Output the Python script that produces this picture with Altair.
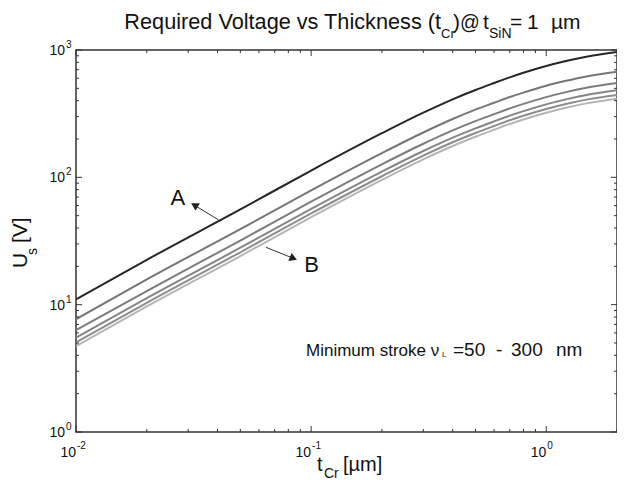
import altair as alt
import pandas as pd

FONT = "Liberation Sans"

# ---------------- data ----------------
t_cr = [0.01, 0.02, 0.05, 0.1, 0.2, 0.3, 0.4, 0.5, 0.6, 0.7, 0.8, 1.0, 1.2, 1.5, 2.0]
u_1 = [11.0, 22.5, 56.0, 113, 222, 322, 410, 485, 550, 610, 662, 748, 815, 890, 965]
u_2 = [7.7, 15.8, 39.2, 79, 155, 225, 287, 340, 385, 427, 463, 524, 570, 623, 675]
u_3 = [6.3, 12.8, 31.9, 64.4, 126.5, 183.5, 233.7, 276.5, 313.5, 347.7, 377.3, 426.4, 464.6, 507.3, 550]
u_4 = [5.5, 11.25, 28.0, 56.5, 111, 161, 205, 242.5, 275, 305, 331, 374, 407.5, 445, 482.5]
u_5 = [5.06, 10.35, 25.8, 52.0, 102, 148, 188.6, 223, 253, 280.6, 304.5, 344, 375, 409.4, 444]
u_6 = [4.73, 9.68, 24.1, 48.6, 95.5, 138.5, 176.3, 208.5, 236.5, 262.3, 284.7, 321.6, 350.5, 382.7, 415]

series_names = ["c1", "c2", "c3", "c4", "c5", "c6"]
series_colors = ["#262626", "#767676", "#7c7c7c", "#858585", "#8d8d8d", "#b5b5b5"]

x_major = [0.01, 0.1, 1.0]
x_major_exp = ["-2", "-1", "0"]
x_minor = [0.02, 0.03, 0.04, 0.05, 0.06, 0.07, 0.08, 0.09,
           0.2, 0.3, 0.4, 0.5, 0.6, 0.7, 0.8, 0.9, 2.0]
y_major = [1, 10, 100, 1000]
y_major_exp = ["0", "1", "2", "3"]
y_minor = [2, 3, 4, 5, 6, 7, 8, 9, 20, 30, 40, 50, 60, 70, 80, 90,
           200, 300, 400, 500, 600, 700, 800, 900]

# annotation arrows (data coordinates)
arrow_label = ["A", "B"]
arrow_x_from = [0.0404, 0.0643]
arrow_y_from = [46.3, 28.2]
arrow_x_to = [0.0319, 0.0841]
arrow_y_to = [60.4, 23.1]
arrow_angle = [300, 112]
label_x = [0.0271, 0.1005]
label_y = [68.9, 20.5]

# ---------------- frames ----------------
rows = []
for name, vals in zip(series_names, [u_1, u_2, u_3, u_4, u_5, u_6]):
    for t, u in zip(t_cr, vals):
        rows.append({"t": t, "u": u, "s": name})
df = pd.DataFrame(rows)

W, H = 541, 382
xs = alt.Scale(type="log", domain=[0.01, 2])
ys = alt.Scale(type="log", domain=[1, 1000])
AX = "#333333"

lines = alt.Chart(df).mark_line(strokeWidth=2, clip=True, interpolate="monotone").encode(
    x=alt.X("t:Q", scale=xs, axis=None),
    y=alt.Y("u:Q", scale=ys, axis=None),
    color=alt.Color("s:N", scale=alt.Scale(domain=series_names, range=series_colors), legend=None),
    detail="s:N",
)

dxM = pd.DataFrame({"v": x_major, "e": x_major_exp, "b": ["10"] * 3})
dxm = pd.DataFrame({"v": x_minor})
dyM = pd.DataFrame({"v": y_major, "e": y_major_exp, "b": ["10"] * 4})
dym = pd.DataFrame({"v": y_minor})

def xticks(d, ln):
    base = alt.Chart(d)
    bot = base.mark_rule(color=AX, strokeWidth=1).encode(
        x=alt.X("v:Q", scale=xs, axis=None), y=alt.value(H), y2=alt.value(H - ln))
    top = base.mark_rule(color=AX, strokeWidth=1).encode(
        x=alt.X("v:Q", scale=xs, axis=None), y=alt.value(0), y2=alt.value(ln))
    return bot + top

def yticks(d, ln):
    base = alt.Chart(d)
    lft = base.mark_rule(color=AX, strokeWidth=1).encode(
        y=alt.Y("v:Q", scale=ys, axis=None), x=alt.value(0), x2=alt.value(ln))
    rgt = base.mark_rule(color=AX, strokeWidth=1).encode(
        y=alt.Y("v:Q", scale=ys, axis=None), x=alt.value(W), x2=alt.value(W - ln))
    return lft + rgt

ticks = xticks(dxM, 6) + xticks(dxm, 3) + yticks(dyM, 6) + yticks(dym, 3)

xlab_b = alt.Chart(dxM).mark_text(align="right", baseline="alphabetic", font=FONT, fontSize=14, color="#111").encode(
    x=alt.X("v:Q", scale=xs, axis=None), y=alt.value(407), text="b:N")
xlab_e = alt.Chart(dxM).mark_text(align="left", baseline="alphabetic", font=FONT, fontSize=10, dx=1, color="#111").encode(
    x=alt.X("v:Q", scale=xs, axis=None), y=alt.value(399), text="e:N")
ylab_b = alt.Chart(dyM).mark_text(align="right", baseline="alphabetic", font=FONT, fontSize=14, dy=5, color="#111").encode(
    y=alt.Y("v:Q", scale=ys, axis=None), x=alt.value(-11), text="b:N")
ylab_e = alt.Chart(dyM).mark_text(align="left", baseline="alphabetic", font=FONT, fontSize=10, dy=-2, color="#111").encode(
    y=alt.Y("v:Q", scale=ys, axis=None), x=alt.value(-10), text="e:N")

darr = pd.DataFrame({"lab": arrow_label, "x1": arrow_x_from, "y1": arrow_y_from,
                     "x2": arrow_x_to, "y2": arrow_y_to, "ang": arrow_angle,
                     "lx": label_x, "ly": label_y})
arr_line = alt.Chart(darr).mark_rule(color="#333", strokeWidth=1).encode(
    x=alt.X("x1:Q", scale=xs, axis=None), y=alt.Y("y1:Q", scale=ys, axis=None),
    x2="x2:Q", y2="y2:Q")
arr_head = alt.Chart(darr).mark_point(shape="triangle-up", filled=True, size=75, color="#222", opacity=1).encode(
    x=alt.X("x2:Q", scale=xs, axis=None), y=alt.Y("y2:Q", scale=ys, axis=None),
    angle=alt.Angle("ang:Q", scale=None))
arr_text = alt.Chart(darr).mark_text(font=FONT, fontSize=22, align="center", baseline="middle", color="#111").encode(
    x=alt.X("lx:Q", scale=xs, axis=None), y=alt.Y("ly:Q", scale=ys, axis=None), text="lab:N")

one = pd.DataFrame({"a": [0]})
OX, OY = 76, 50  # page position of the plot origin; texts below are given in page pixels

def txt(s, px, py, size, align="left", angle=0):
    kw = dict(align=align, baseline="alphabetic", font=FONT, fontSize=size, color="#111")
    if angle:
        kw["angle"] = angle
    return alt.Chart(one).mark_text(**kw).encode(
        x=alt.value(px - OX), y=alt.value(py - OY), text=alt.value(s))

texts = (
    # title
    txt("Required Voltage vs Thickness (t", 441, 29, 21.7, "right")
    + txt("Cr", 441, 38, 13)
    + txt(")", 453, 29, 21)
    + txt("@", 470, 29, 19.5, "center")
    + txt("t", 483, 29, 21)
    + txt("SiN", 489, 38, 14)
    + txt("=", 510, 29, 21)
    + txt("1", 527, 29, 21)
    + txt("\u00b5m", 551, 29, 21)
    # x title
    + txt("t", 317, 471, 20)
    + txt("Cr", 324, 478, 14)
    + txt("[\u00b5m]", 343, 471, 20)
    # y title
    + txt("U", 27, 268, 21, angle=270)
    + txt("s", 37, 255, 14, angle=270)
    + txt("[V]", 27, 243, 21, angle=270)
    # annotation
    + txt("Minimum stroke \u03bd", 306, 356, 17)
    + txt("L", 442, 357, 8)
    + txt("=50", 453, 356, 19)
    + txt("-", 496, 356, 19)
    + txt("300", 511, 356, 19)
    + txt("nm", 556, 356, 19)
)

chart = alt.layer(lines, ticks, xlab_b, xlab_e, ylab_b, ylab_e, arr_line, arr_head, arr_text, texts).properties(
    width=W, height=H,
    autosize=alt.AutoSizeParams(type="none"),
    padding={"left": 68, "top": 42, "right": 0, "bottom": 48},
    background="white",
).configure_view(stroke=AX, strokeWidth=1.5)

chart.save("out.html", embed_options={"renderer": "svg", "actions": False})
